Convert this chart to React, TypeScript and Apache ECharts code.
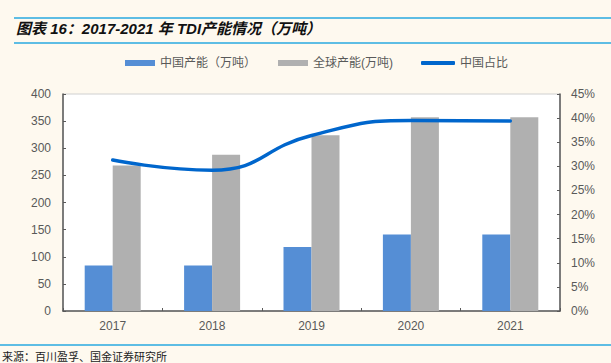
import React, { useEffect, useRef } from "react";
import * as echarts from "echarts";

const years = ["2017", "2018", "2019", "2020", "2021"];
const chinaCapacity = [84, 84, 118, 141, 141];
const globalCapacity = [268, 288, 324, 357, 357];
const chinaShare = [31.3, 29.2, 36.4, 39.5, 39.4];
const seriesNames = ["中国产能（万吨）", "全球产能(万吨)", "中国占比"];

const FONT = "'Liberation Sans', Arial, 'Noto Sans CJK SC', sans-serif";
const AXIS_COLOR = "#595959";
const LABEL_COLOR = "#595959";

export default function App() {
  const ref = useRef<HTMLDivElement>(null);
  useEffect(() => {
    if (!ref.current) return;
    const chart = echarts.init(ref.current, null, { renderer: "svg" });
    const legendCommon = {
      top: 57,
      padding: 0,
      itemWidth: 30,
      itemHeight: 6,
      itemGap: 5,
      textStyle: { color: LABEL_COLOR, fontSize: 12, fontFamily: FONT },
    };
    chart.setOption({
      animation: false,
      backgroundColor: "#FEF9EF",
      textStyle: { fontFamily: FONT },
      grid: {
        left: 63,
        right: 51,
        top: 94,
        bottom: 52,
        show: true,
        backgroundColor: "#ffffff",
        borderColor: "#d0d0d0",
        borderWidth: 1,
      },
      legend: [
        { ...legendCommon, left: 125, data: [{ name: seriesNames[0], icon: "rect" }] },
        { ...legendCommon, left: 278, data: [{ name: seriesNames[1], icon: "rect" }] },
        {
          ...legendCommon,
          left: 421,
          itemWidth: 34,
          itemHeight: 4,
          data: [{ name: seriesNames[2], icon: "roundRect" }],
        },
      ],
      xAxis: {
        type: "category",
        data: years,
        boundaryGap: true,
        axisLine: { show: true, lineStyle: { color: AXIS_COLOR, width: 1.5 } },
        axisTick: { show: true, inside: true, length: 3, alignWithLabel: false, lineStyle: { color: AXIS_COLOR } },
        axisLabel: { color: LABEL_COLOR, fontSize: 12, margin: 9, fontFamily: FONT },
      },
      yAxis: [
        {
          type: "value",
          min: 0,
          max: 400,
          interval: 50,
          axisLine: { show: true, lineStyle: { color: AXIS_COLOR, width: 1.5 } },
          axisTick: { show: true, inside: true, length: 3, lineStyle: { color: AXIS_COLOR } },
          axisLabel: { color: LABEL_COLOR, fontSize: 12, margin: 12, fontFamily: FONT },
          splitLine: { show: false },
        },
        {
          type: "value",
          min: 0,
          max: 45,
          interval: 5,
          position: "right",
          axisLine: { show: true, lineStyle: { color: AXIS_COLOR, width: 1.5 } },
          axisTick: { show: true, inside: true, length: 3, lineStyle: { color: AXIS_COLOR } },
          axisLabel: {
            color: LABEL_COLOR,
            fontSize: 12,
            margin: 11,
            fontFamily: FONT,
            formatter: (v: number) => `${v}%`,
          },
          splitLine: { show: false },
        },
      ],
      series: [
        {
          name: seriesNames[0],
          type: "bar",
          data: chinaCapacity,
          barWidth: 28,
          barGap: "0%",
          itemStyle: { color: "#558ED5" },
        },
        {
          name: seriesNames[1],
          type: "bar",
          data: globalCapacity,
          barWidth: 28,
          barGap: "0%",
          itemStyle: { color: "#B0B0B0" },
        },
        {
          name: seriesNames[2],
          type: "line",
          yAxisIndex: 1,
          data: chinaShare,
          smooth: 0.5,
          symbol: "none",
          lineStyle: { color: "#0066CC", width: 3.5, cap: "round" },
          itemStyle: { color: "#0066CC" },
        },
      ],
      graphic: [
        { type: "line", shape: { x1: 14, y1: 18, x2: 611, y2: 18 }, style: { stroke: "#29A8E0", lineWidth: 1.5 } },
        { type: "line", shape: { x1: 14, y1: 43, x2: 611, y2: 43 }, style: { stroke: "#29A8E0", lineWidth: 1.5 } },
        {
          type: "text",
          left: 16,
          top: 21,
          style: {
            text: "图表 16：2017-2021 年 TDI产能情况（万吨）",
            fontSize: 15,
            fontWeight: "bold",
            fontStyle: "italic",
            fill: "#111",
            fontFamily: FONT,
          },
        },
        { type: "line", shape: { x1: 0, y1: 345, x2: 611, y2: 345 }, style: { stroke: "#29A8E0", lineWidth: 1.5 } },
        {
          type: "text",
          left: 2,
          top: 350,
          style: {
            text: "来源：百川盈孚、国金证券研究所",
            fontSize: 11,
            fill: "#222",
            fontFamily: "'Noto Sans CJK SC', sans-serif",
          },
        },
      ],
    });
    return () => chart.dispose();
  }, []);
  return <div ref={ref} style={{ width: 611, height: 363, position: "absolute", left: 0, top: 0 }} />;
}
